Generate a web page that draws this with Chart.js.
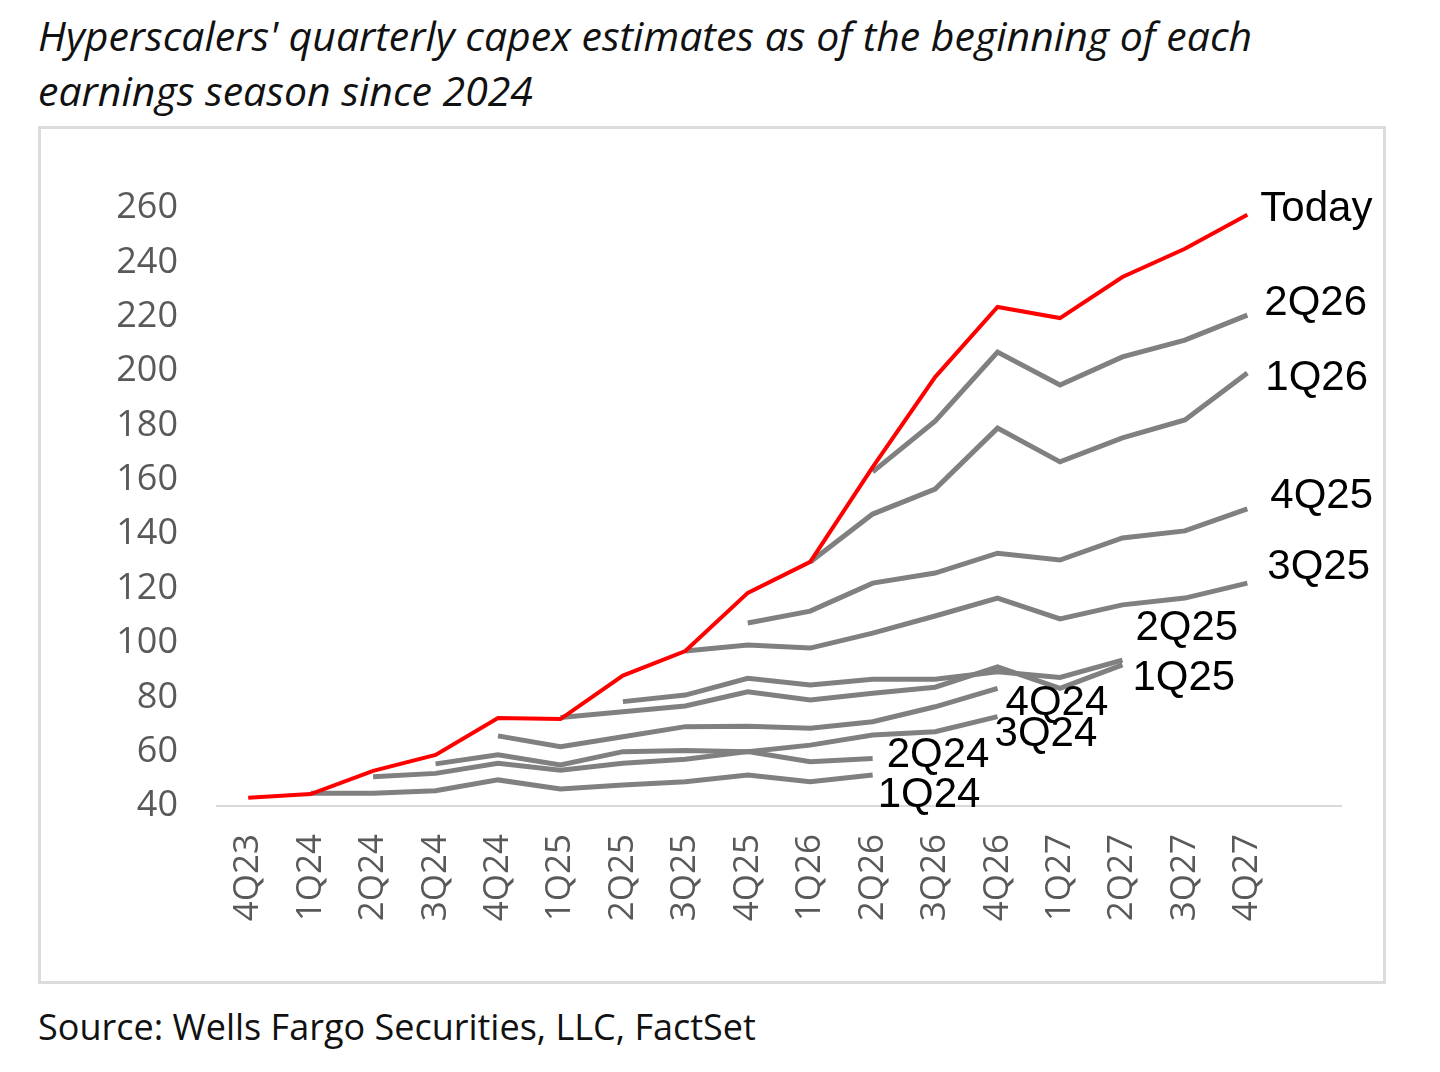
<!DOCTYPE html>
<html>
<head>
<meta charset="utf-8">
<script src="https://cdn.jsdelivr.net/npm/chart.js@4.4.1/dist/chart.umd.min.js"></script>
<style>
    body { margin: 0; background: #fff; width: 1440px; height: 1072px; position: relative; overflow: hidden; }
    .title { position: absolute; left: 38px; top: 8px; font-family: 'Open Sans', sans-serif; font-style: italic; font-size: 41px; line-height: 55px; color: #111; }
    .chart-box { position: absolute; left: 38px; top: 126px; width: 1342px; height: 852px; border: 3px solid #dcdcdc; }
    .source { position: absolute; left: 38px; top: 1002px; font-family: 'Open Sans', sans-serif; font-size: 36px; color: #111; }
</style>
</head>
<body>
<div class="title">Hyperscalers' quarterly capex estimates as of the beginning of each<br>earnings season since 2024</div>
<div class="chart-box"><canvas id="capex"></canvas></div>
<div class="source">Source: Wells Fargo Securities, LLC, FactSet</div>
<script>
const quarters = ['4Q23', '1Q24', '2Q24', '3Q24', '4Q24', '1Q25', '2Q25', '3Q25', '4Q25', '1Q26', '2Q26', '3Q26', '4Q26', '1Q27', '2Q27', '3Q27', '4Q27', ''];

const today = [43, 44.4, 52.9, 58.8, 72.4, 72, 88, 97, 118.4, 129.8, 164.7, 197.8, 223.6, 219.5, 234.6, 245, 257.5];
const est2Q26 = [null, null, null, null, null, null, null, null, null, null, 162.9, 181.6, 207, 194.9, 205.2, 211.4, 220.6];
const est1Q26 = [null, null, null, null, null, null, null, null, null, 129.8, 147.4, 156.6, 179, 166.6, 175.4, 182, 199.3];
const est4Q25 = [null, null, null, null, null, null, null, null, 107.3, 111.7, 122, 125.7, 133, 130.5, 138.6, 141.2, 149.3];
const est3Q25 = [null, null, null, null, null, null, null, 97, 99.2, 98.1, 103.6, 109.9, 116.5, 108.8, 114, 116.5, 122];
const est2Q25 = [null, null, null, null, null, null, 78.4, 80.8, 87, 84.5, 86.6, 86.6, 89.4, 87.3, 93.7];
const est1Q25 = [null, null, null, null, null, 72.6, 74.7, 76.8, 82, 79, 81.5, 83.7, 91.2, 83.3, 91.9];
const est4Q24 = [null, null, null, null, 65.8, 61.8, 65.5, 69.2, 69.3, 68.6, 71, 76.5, 83.3];
const est3Q24 = [null, null, null, 55.5, 58.8, 55.1, 60, 60.4, 60, 62.4, 66.1, 67.3, 72.9];
const est2Q24 = [null, null, 50.8, 52, 55.7, 53.2, 55.7, 57.2, 60, 56.3, 57.5];
const est1Q24 = [null, 44.7, 44.7, 45.6, 49.6, 46.3, 47.7, 48.9, 51.4, 48.9, 51.4];

const yTicks = [40, 60, 80, 100, 120, 140, 160, 180, 200, 220, 240, 260];

const RED = '#ff0000';
const GREY = '#808080';

function series(label, data, color, width, dx, dy) {
    return {
        label: label,
        data: data,
        borderColor: color,
        borderWidth: width,
        pointRadius: 0,
        tension: 0,
        fill: false,
        endLabel: { dx: dx, dy: dy }
    };
}

// draws the season name next to the last point of each line
const endLabels = {
    id: 'endLabels',
    afterDatasetsDraw(chart) {
        const ctx = chart.ctx;
        ctx.save();
        ctx.font = '42px "Liberation Sans Narrow", "Liberation Sans", Arial, sans-serif';
        ctx.fillStyle = '#000';
        ctx.textBaseline = 'middle';
        ctx.textAlign = 'left';
        chart.data.datasets.forEach((ds, i) => {
            const meta = chart.getDatasetMeta(i);
            let last = ds.data.length - 1;
            while (ds.data[last] == null) last--;
            const pt = meta.data[last];
            ctx.fillText(ds.label, pt.x + ds.endLabel.dx, pt.y + ds.endLabel.dy);
        });
        ctx.restore();
    }
};

new Chart(document.getElementById('capex').getContext('2d'), {
    type: 'line',
    data: {
        labels: quarters,
        datasets: [
            series('Today', today, RED, 4, 13, -5),
            series('2Q26', est2Q26, GREY, 5, 17, -12),
            series('1Q26', est1Q26, GREY, 5, 18, 5),
            series('4Q25', est4Q25, GREY, 5, 23, -12),
            series('3Q25', est3Q25, GREY, 5, 20, -16),
            series('2Q25', est2Q25, GREY, 5, 13, -32),
            series('1Q25', est1Q25, GREY, 5, 10, 13),
            series('4Q24', est4Q24, GREY, 5, 8, 15),
            series('3Q24', est3Q24, GREY, 5, -3, 18),
            series('2Q24', est2Q24, GREY, 5, 14, -3),
            series('1Q24', est1Q24, GREY, 5, 5, 20)
        ]
    },
    options: {
        responsive: true,
        maintainAspectRatio: false,
        animation: false,
        layout: { padding: { top: 79, right: 42, bottom: 0, left: 0 } },
        plugins: {
            legend: { display: false },
            tooltip: { enabled: false }
        },
        scales: {
            x: {
                offset: true,
                grid: { display: false, drawTicks: false },
                border: { display: true, color: '#d9d9d9', width: 2 },
                ticks: {
                    color: '#595959',
                    font: { size: 35, family: '"Open Sans", sans-serif' },
                    minRotation: 90,
                    maxRotation: 90,
                    autoSkip: false,
                    padding: 28
                },
                afterFit(scale) { scale.height = 175; }
            },
            y: {
                min: 40,
                max: 260,
                afterBuildTicks(scale) { scale.ticks = yTicks.map(v => ({ value: v })); },
                grid: { display: false, drawTicks: false },
                border: { display: false },
                ticks: {
                    color: '#595959',
                    font: { size: 36, family: '"Open Sans", sans-serif' },
                    padding: 39
                },
                afterFit(scale) { scale.width = 176; }
            }
        }
    },
    plugins: [endLabels]
});
</script>
</body>
</html>
